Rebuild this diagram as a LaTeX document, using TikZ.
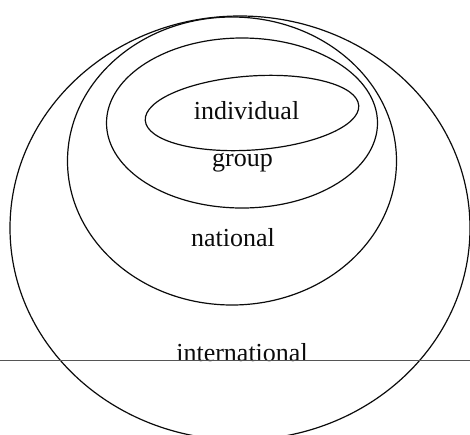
\documentclass[tikz,border=0pt]{standalone}
\usepackage{fontspec}
\setmainfont{Liberation Serif}
\usetikzlibrary{positioning}
\definecolor{ink}{HTML}{0B0B0B}
\definecolor{ink2}{HTML}{555555}
\tikzset{
  ring/.style={draw=ink, line width=1.2pt},
  lbl/.style={font=\fontsize{26}{30}\selectfont, text=ink, inner sep=0pt, anchor=base},
  rule/.style={draw=ink2, line width=0.8pt},
}
\begin{document}
\begin{tikzpicture}[x=1pt, y=-1pt]
  \useasboundingbox (0,0) rectangle (470,434);
  % nested spheres, outer to inner
  \coordinate (cInt) at (240,228);
  \coordinate (cNat) at (232,161);
  \coordinate (cGrp) at (242,123);
  \coordinate (cInd) at (252,113);
  \draw[ring] (cInt) ellipse [x radius=230, y radius=212];
  \draw[ring] (cNat) ellipse [x radius=164.5, y radius=144];
  \draw[ring] (cGrp) ellipse [x radius=135.5, y radius=85];
  \draw[ring, rotate around={4:(cInd)}] (cInd) ellipse [x radius=107, y radius=37];
  % labels (anchored on their baselines)
  \node[lbl] (ind) at (246.5,119) {individual};
  \node[lbl] (grp) at (242.5,166) {group};
  \node[lbl] (nat) at (233,246) {national};
  \node[lbl] (int) at (242,361) {international};
  % horizon line
  \coordinate (hl) at (0,360.5);
  \coordinate (hr) at (470,360.5);
  \draw[rule] (hl) -- (hr);
\end{tikzpicture}
\end{document}
